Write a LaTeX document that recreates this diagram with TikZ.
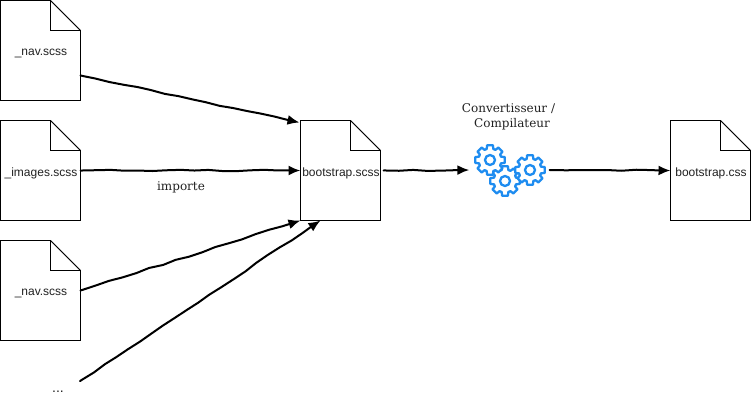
\documentclass[tikz,border=0pt]{standalone}
\usepackage{fontspec}
\setmainfont{Liberation Sans}
\newfontfamily\labelserif{DejaVu Serif}
\usetikzlibrary{calc,decorations.pathmorphing,arrows.meta}
\definecolor{gearblue}{HTML}{1E8CF0}
\definecolor{inkgrey}{HTML}{222222}
\tikzset{
  docbox/.style={minimum width=80pt,minimum height=100pt,inner sep=0pt,outer sep=0pt,font=\fontsize{12}{14}\selectfont,text=inkgrey},
  docline/.style={draw=black,line width=0.9pt,fill=white,line join=miter},
  fold/.style={draw=black,line width=0.6pt},
  link/.style={draw=black,line width=2pt,line cap=round,-{Latex[length=12pt,width=10pt]},
    decorate,decoration={random steps,segment length=14pt,amplitude=0.7pt,pre length=2pt,post length=11pt}},
  serifnote/.style={font=\labelserif\fontsize{12}{16}\selectfont,text=inkgrey,inner sep=0pt},
  plaintext/.style={font=\fontsize{12}{14}\selectfont,text=inkgrey,inner sep=0pt},
  gearline/.style={draw=gearblue,line width=2.3pt,fill=white,line join=round},
  gear/.pic={
    \draw[gearline] (-17:11.5pt) \foreach \a in {0,45,...,315}{ -- (\a-11:15pt) -- (\a+11:15pt) -- (\a+17:11.5pt) -- (\a+28:11.5pt)} -- cycle;
    \draw[gearline] (0,0) circle (5pt);
  }
}
\newcommand{\docshape}[1]{%
  \draw[docline] (#1.north west) -- ($(#1.north east)+(-30pt,0)$) -- ($(#1.north east)+(0,-30pt)$) -- (#1.south east) -- (#1.south west) -- cycle;
  \draw[fold] ($(#1.north east)+(-30pt,0)$) -- ($(#1.north east)+(0,-30pt)$);
  \draw[docline,fill=none] ($(#1.north east)+(-30pt,0)$) -- ($(#1.north east)+(-30pt,-30pt)$) -- ($(#1.north east)+(0,-30pt)$);
}
\begin{document}
\begin{tikzpicture}[x=1pt,y=-1pt]
\useasboundingbox (0,0) rectangle (751,401);
\pgfmathsetseed{7}
\node[docbox] (nava) at (40.5,50.5) {};
\node[docbox] (images) at (40.5,170.5) {};
\node[docbox] (navb) at (40.5,290.5) {};
\node[docbox] (boot) at (340.5,170.5) {};
\node[docbox] (css) at (710.5,170.5) {};
\docshape{nava}\docshape{images}\docshape{navb}\docshape{boot}\docshape{css}
\node[plaintext] (navatext) at (41,53.5) {\_nav.scss};
\node[plaintext] (imagestext) at (41,173.5) {\_images.scss};
\node[plaintext] (navbtext) at (41,293.5) {\_nav.scss};
\node[plaintext] (boottext) at (341,173.5) {bootstrap.scss};
\node[plaintext] (csstext) at (711,173.5) {bootstrap.css};
\node[plaintext,font=\fontsize{14}{14}\selectfont] (more) at (58,392) {...};
\node[serifnote] (imp) at (181,187) {importe};
\node[serifnote] (conva) at (508.5,108.5) {Convertisseur /};
\node[serifnote] (convb) at (512,124.5) {Compilateur};
\pic at (505,181) {gear};
\pic at (490,160) {gear};
\pic at (530,170) {gear};
\node[inner sep=0pt,minimum width=80pt,minimum height=58pt] (gears) at (509.5,170) {};
\coordinate (morestart) at ($(more.north)+(22,-10)$);
\draw[link] ($(nava.south east)+(0,-25)$) -- ($(boot.north west)+(-1,2)$);
\draw[link] ($(images.east)$) -- (boot.west);
\draw[link] ($(navb.east)$) -- (boot.south west);
\draw[link] (morestart) -- ($(boot.south west)+(20,0)$);
\draw[link] ($(boot.east)+(3,0)$) -- (gears.west);
\draw[link] (gears.east) -- (css.west);
\end{tikzpicture}
\end{document}
